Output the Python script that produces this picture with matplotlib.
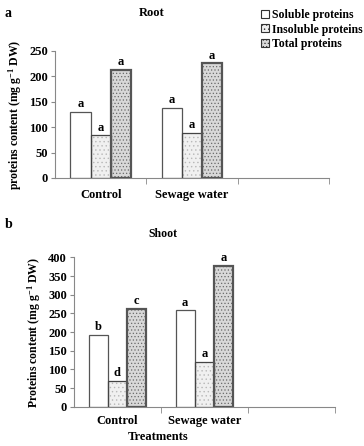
import matplotlib
matplotlib.use('Agg')
import matplotlib.pyplot as plt
import numpy as np
from matplotlib.patches import Rectangle

plt.rcParams['font.family'] = 'Liberation Serif'
plt.rcParams['font.weight'] = 'bold'
plt.rcParams['mathtext.fontset'] = 'custom'
plt.rcParams['mathtext.rm'] = 'Liberation Serif:bold'
plt.rcParams['mathtext.bf'] = 'Liberation Serif:bold'
plt.rcParams['mathtext.default'] = 'rm'
plt.rcParams['hatch.linewidth'] = 0.5

categories = ['Control', 'Sewage water', '']
series = ['Soluble proteins', 'Insoluble proteins', 'Total proteins']

root_soluble = [130, 138]
root_insoluble = [84, 89]
root_total = [213, 226]
root_letters = [['a', 'a'], ['a', 'a'], ['a', 'a']]

shoot_soluble = [192, 258]
shoot_insoluble = [70, 121]
shoot_total = [263, 378]
shoot_letters = [['b', 'a'], ['d', 'a'], ['c', 'a']]

FACE = ['white', '#f0f0f0', '#d8d8d8']
HATCH = [None, '....', '.....']
HATCH_C = [None, '#b8b8b8', '#6a6a6a']
EDGE = ['#555555', '#444444', '#555555']
LW = [0.9, 0.9, 1.6]


def draw(ax, data, letters, ymax, step, ylabel):
    width = 0.22
    x = np.arange(len(data[0]))
    for i, vals in enumerate(data):
        pos = x + (i - 1) * width
        if HATCH[i]:
            ax.bar(pos, vals, width, color=FACE[i], edgecolor=HATCH_C[i],
                   hatch=HATCH[i], linewidth=0, zorder=2)
        ax.bar(pos, vals, width, fill=False, edgecolor=EDGE[i],
               linewidth=LW[i], zorder=3)
        for p, v, t in zip(pos, vals, letters[i]):
            ax.text(p, v + ymax * 0.012, t, ha='center', va='bottom',
                    fontsize=9, fontweight='bold')
    ax.set_xlim(-0.5, len(categories) - 0.5)
    ax.set_ylim(0, ymax)
    ax.set_yticks(np.arange(0, ymax + 1, step))
    ax.set_xticks(np.arange(len(categories)))
    ax.set_xticklabels(categories, fontsize=9, fontweight='bold')
    ax.tick_params(axis='x', which='major', length=0, pad=8)
    ax.set_xticks(np.arange(len(categories)) + 0.5, minor=True)
    ax.tick_params(axis='x', which='minor', length=4, color='#888888')
    ax.tick_params(axis='y', length=3, labelsize=9, color='#888888', pad=2)
    for lab in ax.get_yticklabels():
        lab.set_fontweight('bold')
    for s in ['top', 'right']:
        ax.spines[s].set_visible(False)
    for s in ['left', 'bottom']:
        ax.spines[s].set_color('#888888')
        ax.spines[s].set_linewidth(0.8)
    ax.set_ylabel(ylabel, fontsize=8.5, fontweight='bold', labelpad=4)


fig = plt.figure(figsize=(3.64, 4.46), dpi=100)

ax1 = fig.add_axes([0.151, 0.601, 0.753, 0.285])
draw(ax1, [root_soluble, root_insoluble, root_total], root_letters, 250, 50,
     'proteins content (mg g$^{-1}$ DW)')

ax2 = fig.add_axes([0.203, 0.088, 0.717, 0.335])
draw(ax2, [shoot_soluble, shoot_insoluble, shoot_total], shoot_letters, 400, 50,
     'Proteins content (mg g$^{-1}$ DW)')
ax2.tick_params(axis='x', which='major', pad=6)

fig.text(0.418, 0.971, 'Root', fontsize=9, fontweight='bold', ha='center', va='center')
fig.text(0.448, 0.475, 'Shoot', fontsize=8.5, fontweight='bold', ha='center', va='center')
fig.text(0.434, 0.021, 'Treatments', fontsize=9, fontweight='bold', ha='center', va='center')

fig.text(0.012, 0.97, 'a', fontsize=10, fontweight='bold', va='center')
fig.text(0.012, 0.496, 'b', fontsize=10, fontweight='bold', va='center')

handles = []
for i in range(3):
    handles.append(Rectangle((0, 0), 1, 1, facecolor=FACE[i],
                             edgecolor='#333333',
                             hatch=HATCH[i] if HATCH[i] else None, linewidth=0.8))
fig.legend(handles, series, loc='upper left', bbox_to_anchor=(0.705, 0.99),
           frameon=False, fontsize=8.5, handlelength=0.65, handleheight=0.65,
           handletextpad=0.25, labelspacing=0.2, borderaxespad=0)

fig.savefig('out.png', dpi=100)
